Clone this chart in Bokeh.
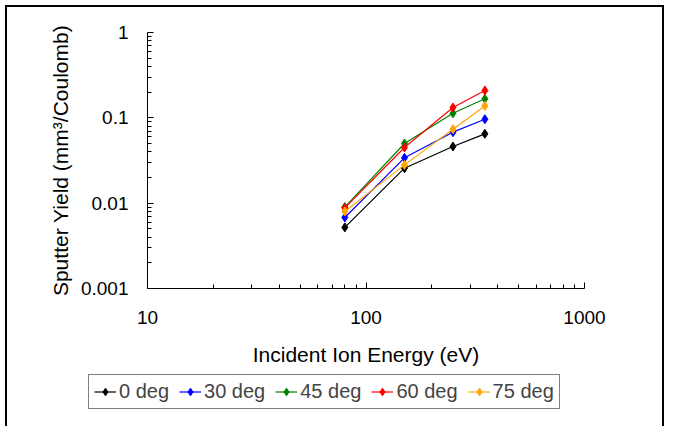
from bokeh.plotting import figure
from bokeh.models import Range1d, FixedTicker, Legend, LegendItem
from bokeh.embed import file_html
from bokeh.resources import INLINE

energy = [80, 150, 250, 350]
yield_0 = [0.0052, 0.0257, 0.0461, 0.0649]
yield_30 = [0.0068, 0.0340, 0.0679, 0.0964]
yield_45 = [0.0090, 0.0500, 0.1130, 0.1670]
yield_60 = [0.0088, 0.0449, 0.1320, 0.2090]
yield_75 = [0.0080, 0.0281, 0.0736, 0.1380]
series_names = ["0 deg", "30 deg", "45 deg", "60 deg", "75 deg"]
series_colors = ["#000000", "#0000FF", "#008000", "#FF0000", "#FFA500"]
x_ticks = [10, 100, 1000]
y_ticks = [0.001, 0.01, 0.1, 1]

FONT = "Liberation Sans"
W = 659
BORDER = "2px solid black"

p = figure(width=W, height=363, x_axis_type="log", y_axis_type="log",
           x_range=Range1d(10, 1000), y_range=Range1d(0.001, 1),
           output_backend="svg", toolbar_location=None,
           min_border_left=140, min_border_right=82,
           min_border_top=25, min_border_bottom=82)
p.outline_line_color = None
p.xgrid.visible = False
p.ygrid.visible = False
p.styles = {"margin-left": "5px", "margin-top": "5px",
            "border-left": BORDER, "border-top": BORDER, "border-right": BORDER}

x_minor = [m * d for d in [10, 100] for m in range(2, 10)]
y_minor = [m * d for d in [0.001, 0.01, 0.1] for m in range(2, 10)]
p.xaxis.ticker = FixedTicker(ticks=x_ticks, minor_ticks=x_minor)
p.yaxis.ticker = FixedTicker(ticks=y_ticks, minor_ticks=y_minor)
p.xaxis.major_label_overrides = {t: str(t) for t in x_ticks}
p.yaxis.major_label_overrides = {0.001: "0.001", 0.01: "0.01", 0.1: "0.1", 1: "1"}

for ax in (p.xaxis, p.yaxis):
    ax.major_tick_in = 6
    ax.major_tick_out = 0
    ax.minor_tick_in = 4
    ax.minor_tick_out = 0
    ax.axis_line_color = "black"
    ax.major_tick_line_color = "black"
    ax.minor_tick_line_color = "black"
    ax.major_label_text_font = FONT
    ax.major_label_text_font_size = "19px"
    ax.major_label_text_color = "black"
    ax.axis_label_text_font = FONT
    ax.axis_label_text_font_size = "21px"
    ax.axis_label_text_font_style = "normal"
    ax.axis_label_text_color = "black"

p.xaxis.axis_label = "Incident Ion Energy (eV)"
p.yaxis.axis_label = "Sputter Yield (mm³/Coulomb)"
p.xaxis.major_label_standoff = 22
p.yaxis.major_label_standoff = 19
p.xaxis.axis_label_standoff = 16
p.yaxis.axis_label_standoff = 6

all_y = [yield_0, yield_30, yield_45, yield_60, yield_75]
for color, ys in zip(series_colors, all_y):
    p.line(energy, ys, line_color=color, line_width=1.2)
    p.scatter(energy, ys, marker="diamond", size=9, fill_color=color, line_color=color)

# legend strip below the chart (separate root, its frame spans the whole strip)
p2 = figure(width=W, height=58, x_range=Range1d(0, 1), y_range=Range1d(0, 1),
            x_axis_location=None, y_axis_location=None,
            output_backend="svg", toolbar_location=None,
            min_border=0, min_border_left=0, min_border_right=0,
            min_border_top=0, min_border_bottom=0)
p2.outline_line_color = None
p2.xgrid.visible = False
p2.ygrid.visible = False
p2.styles = {"margin-left": "5px", "border-left": BORDER, "border-right": BORDER}

items = []
for name, color, ys in zip(series_names, series_colors, all_y):
    # same series drawn outside this strip's view; only their legend glyphs show
    r1 = p2.line(energy, ys, line_color=color, line_width=1.2)
    r2 = p2.scatter(energy, ys, marker="diamond", size=7, fill_color=color, line_color=color)
    items.append(LegendItem(label=name, renderers=[r1, r2]))

legend = Legend(items=items, orientation="horizontal", location=(81, 17),
                label_text_font=FONT, label_text_font_size="20px",
                border_line_color="black", border_line_width=1.5,
                glyph_width=22, glyph_height=19, label_standoff=3,
                spacing=10, padding=5, margin=0, label_height=19)
p2.add_layout(legend, "center")

open("out.html", "w").write(file_html([p, p2], INLINE))
